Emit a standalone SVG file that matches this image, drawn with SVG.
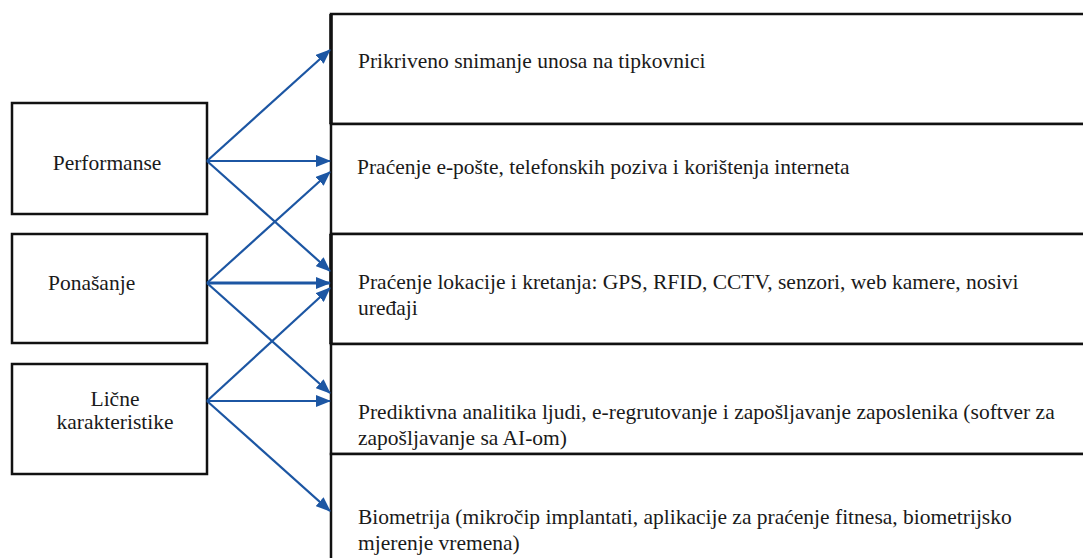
<svg xmlns="http://www.w3.org/2000/svg" width="1083" height="558" viewBox="0 0 1083 558">
<style>
.box{fill:#fff;stroke:#111;stroke-width:2.5}
.t{font-family:'Liberation Serif','Tinos','Times New Roman','DejaVu Serif',serif;font-size:21.5px;fill:#1a1a1a}
.c{stroke:#1c56a3;stroke-width:2.2;fill:none;marker-end:url(#ah)}
</style>
<defs>
<marker id="ah" viewBox="0 0 15 12" refX="14" refY="6" markerWidth="15" markerHeight="12" markerUnits="userSpaceOnUse" orient="auto">
<path d="M0,0 L15,6 L0,12 Z" fill="#1c56a3"/>
</marker>
</defs>
<rect width="1083" height="558" fill="#fff"/>
<g id="n-performanse">
<rect class="box" x="12" y="103" width="195" height="111"/>
<text class="t" x="107" y="170" text-anchor="middle">Performanse</text>
</g>
<g id="n-ponasanje">
<rect class="box" x="12" y="234" width="195" height="109"/>
<text class="t" x="48" y="290">Ponašanje</text>
</g>
<g id="n-licne">
<rect class="box" x="12" y="364" width="195" height="110"/>
<text class="t" x="115" y="406" text-anchor="middle">Lične</text>
<text class="t" x="115" y="429" text-anchor="middle">karakteristike</text>
</g>
<g id="n-r1">
<rect class="box" x="331" y="14" width="800" height="110"/>
<line x1="331" y1="14" x2="331" y2="124" stroke="#111" stroke-width="3.5"/>
<text class="t" x="358" y="68">Prikriveno snimanje unosa na tipkovnici</text>
</g>
<g id="n-r2">
<rect class="box" x="331" y="124" width="800" height="110"/>
<text class="t" x="357" y="174">Praćenje e-pošte, telefonskih poziva i korištenja interneta</text>
</g>
<g id="n-r3">
<rect class="box" x="331" y="234" width="800" height="110"/>
<line x1="331" y1="234" x2="331" y2="344" stroke="#111" stroke-width="3.5"/>
<text class="t" x="358" y="289">Praćenje lokacije i kretanja: GPS, RFID, CCTV, senzori, web kamere, nosivi</text>
<text class="t" x="358" y="315">uređaji</text>
</g>
<g id="n-r4">
<rect class="box" x="331" y="344" width="800" height="110"/>
<text class="t" x="358" y="419">Prediktivna analitika ljudi, e-regrutovanje i zapošljavanje zaposlenika (softver za</text>
<text class="t" x="358" y="445">zapošljavanje sa AI-om)</text>
</g>
<g id="n-r5">
<rect class="box" x="331" y="454" width="800" height="130"/>
<text class="t" x="358" y="524">Biometrija (mikročip implantati, aplikacije za praćenje fitnesa, biometrijsko</text>
<text class="t" x="358" y="550">mjerenje vremena)</text>
</g>
<g id="connectors">
<line class="c" x1="207" y1="161" x2="330" y2="50"/>
<line class="c" x1="207" y1="161" x2="330" y2="161"/>
<line class="c" x1="207" y1="161" x2="330" y2="271"/>
<line class="c" x1="207" y1="283" x2="330" y2="172"/>
<line class="c" x1="207" y1="283" x2="330" y2="283" style="stroke-width:3"/>
<line class="c" x1="207" y1="283" x2="330" y2="393"/>
<line class="c" x1="207" y1="401" x2="330" y2="288"/>
<line class="c" x1="207" y1="401" x2="330" y2="401"/>
<line class="c" x1="207" y1="401" x2="330" y2="511"/>
</g>
</svg>
